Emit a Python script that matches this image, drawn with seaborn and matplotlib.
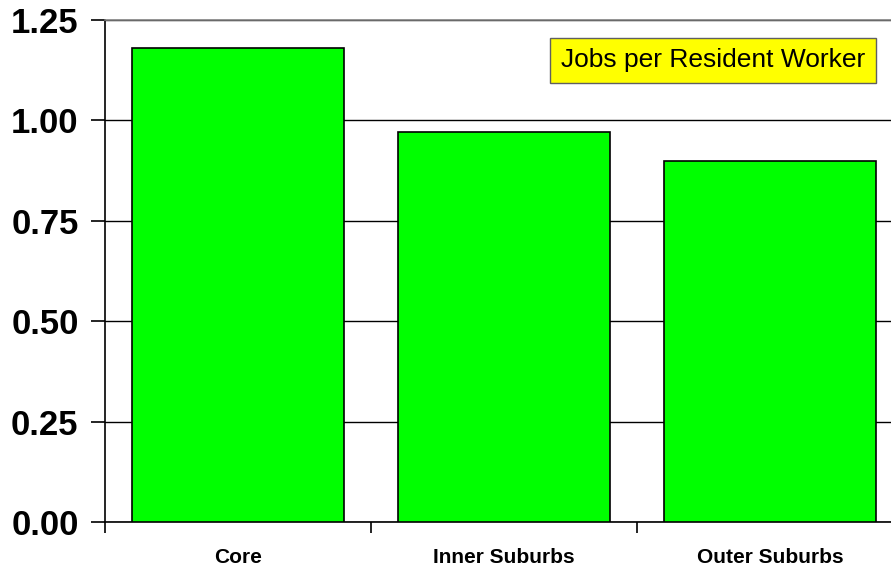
import numpy as np
import pandas as pd
import matplotlib
matplotlib.use("Agg")
import matplotlib.pyplot as plt
import seaborn as sns

# data
areas = ["Core", "Inner Suburbs", "Outer Suburbs"]
jobs_per_worker = [1.18, 0.97, 0.90]
y_ticks = [0.00, 0.25, 0.50, 0.75, 1.00, 1.25]

df = pd.DataFrame({"area": areas, "ratio": jobs_per_worker})

sns.set_style("white")
plt.rcParams["font.family"] = ["Liberation Sans", "DejaVu Sans"]
plt.rcParams["text.color"] = "black"
plt.rcParams["xtick.color"] = "black"
plt.rcParams["ytick.color"] = "black"

fig = plt.figure(figsize=(8.91, 5.69), dpi=100)
ax = fig.add_axes([0.1178, 0.0826, 0.8957, 0.8823])

sns.barplot(data=df, x="area", y="ratio", color="#00FF00", saturation=1,
            width=0.8, edgecolor="black", linewidth=1.2, ax=ax, zorder=3)

ax.set_ylim(0, 1.25)
ax.set_xlim(-0.5, 2.5)
ax.set_yticks(y_ticks)
ax.set_yticklabels([f"{v:.2f}" for v in y_ticks], fontsize=25, fontweight="bold")
ax.set_xticks(range(len(areas)))
ax.set_xticklabels(areas, fontsize=15, fontweight="bold")
ax.set_xticks([-0.5, 0.5, 1.5, 2.5], minor=True)
ax.tick_params(axis="x", which="major", length=0, pad=19, labelcolor="black")
ax.tick_params(axis="x", which="minor", bottom=True, length=8, width=1.2,
               color="black", direction="out")
ax.tick_params(axis="y", length=10, width=1.2, color="black", direction="out",
               left=True, pad=9, labelcolor="black")

ax.set_xlabel("")
ax.set_ylabel("")

ax.yaxis.grid(True, color="black", linewidth=1.0)
ax.set_axisbelow(True)
for side in ["left", "bottom"]:
    ax.spines[side].set_color("black")
    ax.spines[side].set_linewidth(1.2)
ax.spines["right"].set_visible(False)
ax.spines["top"].set_color("#808080")
ax.spines["top"].set_linewidth(1.2)

ax.text(0.762, 0.92, "Jobs per Resident Worker", transform=ax.transAxes,
        ha="center", va="center", fontsize=19, color="black", zorder=5,
        bbox=dict(boxstyle="square,pad=0.4", facecolor="#FFFF00",
                  edgecolor="#606060", linewidth=1.0))

fig.savefig("out.png", dpi=100)
